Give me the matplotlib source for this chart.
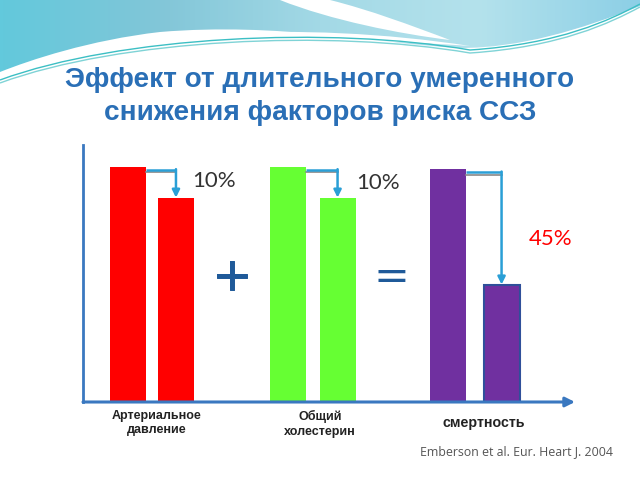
import numpy as np
import matplotlib.pyplot as plt
import matplotlib.patheffects as pe
from matplotlib.path import Path
from matplotlib.patches import PathPatch
from matplotlib.colors import LinearSegmentedColormap

# data
groups = ['Артериальное\nдавление', 'Общий\nхолестерин', 'смертность']
before = [100, 100, 99]
after = [87, 87, 50]
drops = ['10%', '10%', '45%']
bar_colors = ['#ff0000', '#66ff33', '#7030a0']

fig = plt.figure(figsize=(6.4, 4.8), dpi=100)

# decorative wave at the top (pixel coords, y downwards)
bg = fig.add_axes([0, 0, 1, 1], zorder=0)
bg.set_xlim(0, 640)
bg.set_ylim(480, 0)
bg.axis('off')

C4 = Path.CURVE4
wave = Path([(0, 0), (640, 0), (640, 6),
             (580, 30), (520, 48), (460, 48),
             (380, 44), (280, 22), (160, 32),
             (90, 40), (30, 60), (0, 72), (0, 0)],
            [Path.MOVETO, Path.LINETO, Path.LINETO,
             C4, C4, C4, C4, C4, C4, C4, C4, C4, Path.CLOSEPOLY])
wave_patch = PathPatch(wave, facecolor='none', edgecolor='none')
bg.add_patch(wave_patch)
cmap = LinearSegmentedColormap.from_list(
    'w', ['#62c9dc', '#82c6d8', '#a3d9e6', '#b4e2ec', '#8ccfe6'])
grad = np.linspace(0, 1, 640)[None, :].repeat(80, axis=0)
im = bg.imshow(grad, cmap=cmap, extent=(0, 640, 80, 0), aspect='auto', zorder=1)
im.set_clip_path(wave_patch)

# white swoosh
swoosh = Path([(280, 0), (330, 0),
               (370, 10), (410, 25), (450, 40),
               (400, 34), (330, 20), (280, 0)],
              [Path.MOVETO, Path.LINETO, C4, C4, C4, C4, C4, C4])
bg.add_patch(PathPatch(swoosh, facecolor='white', edgecolor='none', zorder=2))
ribbon = Path([(0, 76), (120, 30), (300, 20), (470, 46),
               (300, 34), (120, 40), (0, 76)],
              [Path.MOVETO, C4, C4, C4, C4, C4, C4])
bg.add_patch(PathPatch(ribbon, facecolor='white', edgecolor='none', zorder=2))
for dy, col in [(0, '#3cbfc4'), (3, '#7fd3d6')]:
    line = Path([(0, 80 + dy), (120, 36 + dy), (330, 26 + dy), (470, 50 + dy),
                 (560, 44 + dy), (610, 20 + dy), (640, 4 + dy)],
                [Path.MOVETO, C4, C4, C4, C4, C4, C4])
    bg.add_patch(PathPatch(line, facecolor='none', edgecolor=col, lw=1.0, zorder=3))

# title
title_kw = dict(ha='center', va='center', fontsize=20.2, fontweight='bold',
                color='#2a6fb6', family='Liberation Sans')
fig.text(0.5, 1 - 80 / 480, 'Эффект от длительного умеренного', **title_kw)
fig.text(0.5, 1 - 113 / 480, 'снижения факторов риска ССЗ', **title_kw)

# chart
ax = fig.add_axes([83 / 640, 78 / 480, 492 / 640, 257 / 480], zorder=2)
ax.patch.set_alpha(0)
pos = np.arange(len(groups))
offs = np.array([0.30, 0.31, 0.335])
w = 0.225

ax.bar(pos, before, width=w, color=bar_colors, zorder=3)
bars2 = ax.bar(pos + offs, after, width=w, color=bar_colors, zorder=3)
bars2[2].set_edgecolor('#2f4f9a')
bars2[2].set_linewidth(1.5)

for i in range(len(groups)):
    xs = pos[i] + w / 2
    xe = pos[i] + offs[i]
    yt = before[i] - 1.3
    ax.plot([xs, xe], [yt - 0.9, yt - 0.9], color='#888888', lw=1.2, zorder=4)
    ax.plot([xs, xe], [yt, yt], color='#2a9fd6', lw=1.8, zorder=5,
            solid_capstyle='butt')
    ax.annotate('', xy=(xe, after[i]), xytext=(xe, yt + 0.4),
                arrowprops=dict(arrowstyle='-|>', color='#2a9fd6', lw=1.8,
                                mutation_scale=11, shrinkA=0, shrinkB=0),
                zorder=5)

label_xy = [(0.54, 94.0), (1.56, 93.2), (2.64, 69.4)]
label_col = ['#333333', '#333333', '#ff0000']
for (lx, ly), txt, col in zip(label_xy, drops, label_col):
    ax.text(lx, ly, txt, ha='center', va='center', fontsize=16,
            color=col, family='Lato')

thick = [pe.withStroke(linewidth=0.7, foreground='#1f5a99')]
ax.text(0.65, 52.8, '+', ha='center', va='center', fontsize=34,
        color='#1f5a99', family='DejaVu Sans', path_effects=thick)
ax.text(1.644, 53.2, '=', ha='center', va='center', fontsize=31,
        color='#1f5a99', family='DejaVu Sans')

ax.set_xlim(-0.281, 2.794)
ax.set_ylim(0, 109.4)
ax.set_xticks([])
ax.set_yticks([])
for s in ['top', 'right', 'bottom']:
    ax.spines[s].set_visible(False)
ax.spines['left'].set_color('#3a78c0')
ax.spines['left'].set_linewidth(2)
ax.annotate('', xy=(1.0, 0), xytext=(0, 0), xycoords='axes fraction',
            arrowprops=dict(arrowstyle='-|>', color='#3a78c0', lw=2.2,
                            mutation_scale=14, shrinkA=0, shrinkB=0))

# group labels under the axis
fig.text(157 / 640, 1 - 423 / 480, groups[0], ha='center', va='center',
         fontsize=9, fontweight='bold', color='#222222', linespacing=1.25,
         family='Liberation Sans')
fig.text(320 / 640, 1 - 424 / 480, groups[1], ha='center', va='center',
         fontsize=9, fontweight='bold', color='#222222', linespacing=1.25,
         family='Liberation Sans')
fig.text(484 / 640, 1 - 423 / 480, groups[2], ha='center', va='center',
         fontsize=10.3, fontweight='bold', color='#222222',
         family='Liberation Sans')
fig.text(516 / 640, 1 - 452 / 480, 'Emberson et al. Eur. Heart J. 2004',
         ha='center', va='center', fontsize=8.9, color='#555555',
         family='Open Sans')

plt.savefig('out.png', dpi=100)
